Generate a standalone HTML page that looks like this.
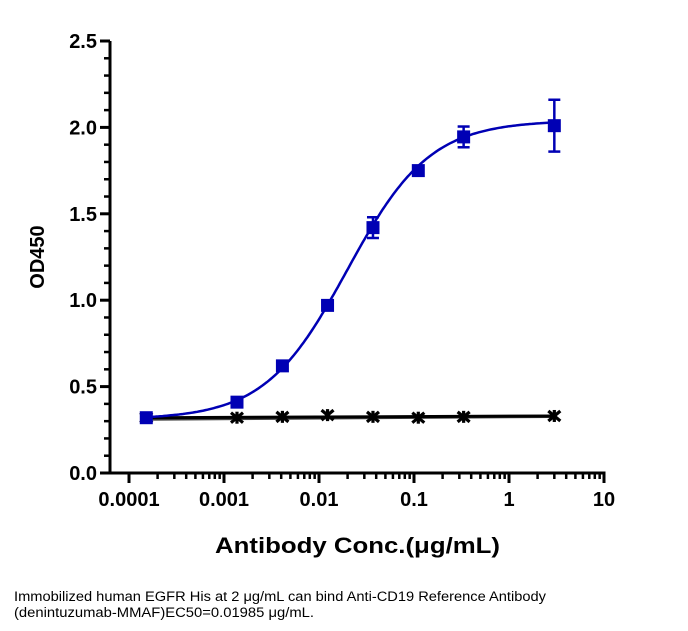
<!DOCTYPE html>
<html><head><meta charset="utf-8"><style>
html,body{margin:0;padding:0;background:#fff;width:688px;height:631px;overflow:hidden}
svg text{font-family:"Liberation Sans",Arial,sans-serif}
</style></head><body>
<svg id="chart" width="688" height="631" xmlns="http://www.w3.org/2000/svg">
<g id="axes"></g><g id="plot"></g>
<text x="215" y="553" font-size="22" font-weight="bold" textLength="285" lengthAdjust="spacingAndGlyphs">Antibody Conc.(μg/mL)</text>
<text transform="translate(44,257) rotate(-90)" font-size="20" font-weight="bold" text-anchor="middle">OD450</text>
<text x="14" y="601" font-size="13.5" textLength="532" lengthAdjust="spacingAndGlyphs">Immobilized human EGFR His at 2  μg/mL can bind  Anti-CD19 Reference Antibody</text>
<text x="14" y="617" font-size="13.5" textLength="300" lengthAdjust="spacingAndGlyphs">(denintuzumab-MMAF)EC50=0.01985 μg/mL.</text>
</svg>
<script>
const conc = [0.000152, 0.00137, 0.00412, 0.0123, 0.037, 0.111, 0.333, 3];
const sampleOD = [0.32, 0.41, 0.62, 0.97, 1.42, 1.75, 1.945, 2.01];
const sampleErr = [0.02, 0.01, 0.01, 0.025, 0.06, 0.015, 0.06, 0.15];
const controlOD = [0.32, 0.32, 0.325, 0.335, 0.325, 0.32, 0.325, 0.33];
const fitParams = {bottom:0.31, top:2.04, ec50:0.01985, hill:1.0};
const yTicks = [0, 0.5, 1.0, 1.5, 2.0, 2.5];
const yTickLabels = ["0.0","0.5","1.0","1.5","2.0","2.5"];
const xTicks = [0.0001, 0.001, 0.01, 0.1, 1, 10];
const xTickLabels = ["0.0001","0.001","0.01","0.1","1","10"];

const NS="http://www.w3.org/2000/svg";
const X0=129, PXD=95, Y0=473, PXU=172.8;
const xs=v=>X0+(Math.log10(v)+4)*PXD;
const ys=v=>Y0-v*PXU;
function mk(tag,attrs,parent){const e=document.createElementNS(NS,tag);for(const k in attrs)e.setAttribute(k,attrs[k]);parent.appendChild(e);return e;}
const ax=document.getElementById('axes'), pl=document.getElementById('plot');
let yl=mk('line',{x1:110,y1:ys(2.5),x2:110,y2:Y0+1.5,stroke:'#000','stroke-width':3},ax);


let xl=mk('line',{x1:108.5,y1:Y0,x2:xs(10)+1.5,y2:Y0,stroke:'#000','stroke-width':3},ax);


for(let i=1;i<25;i++){if(i%5==0)continue;mk('line',{x1:104,y1:ys(i/10),x2:110,y2:ys(i/10),stroke:'#000','stroke-width':2.5},ax);}
yTicks.forEach((v,i)=>{
 mk('line',{x1:100,y1:ys(v),x2:110,y2:ys(v),stroke:'#000','stroke-width':3},ax);
 const t=mk('text',{x:97,y:ys(v)+7,'font-size':20,'font-weight':'bold','text-anchor':'end'},ax);
 t.textContent=yTickLabels[i];
 
 
});
xTicks.forEach((v,i)=>{
 mk('line',{x1:xs(v),y1:Y0,x2:xs(v),y2:Y0+10,stroke:'#000','stroke-width':3},ax);
 if(i<xTicks.length-1)for(let m=2;m<10;m++){const xm=xs(v*m);mk('line',{x1:xm,y1:Y0,x2:xm,y2:Y0+6,stroke:'#000','stroke-width':2.5},ax);}
 const t=mk('text',{x:xs(v),y:Y0+33,'font-size':20,'font-weight':'bold','text-anchor':'middle'},ax);
 t.textContent=xTickLabels[i];
 
 
});
let cl2=mk('line',{x1:xs(conc[0]),y1:ys(controlOD[0])+2,x2:xs(conc[conc.length-1]),y2:ys(controlOD[conc.length-1])+1,stroke:'#444','stroke-width':2},pl);


let cl3=mk('line',{x1:xs(conc[0]),y1:ys(controlOD[0]),x2:xs(conc[conc.length-1]),y2:ys(controlOD[conc.length-1]),stroke:'#000','stroke-width':3},pl);


conc.forEach((c,i)=>{
 const x=xs(c),y=ys(controlOD[i]);
 const g=mk('g',{stroke:'#000','stroke-width':3.2},pl);
 
 
 mk('line',{x1:x-6,y1:y-5,x2:x+6,y2:y+5},g);mk('line',{x1:x-6,y1:y+5,x2:x+6,y2:y-5},g);mk('line',{x1:x,y1:y-6,x2:x,y2:y+6},g);
});
let d='';
for(let k=0;k<=200;k++){const lx=Math.log10(conc[0])+k/200*(Math.log10(conc[conc.length-1])-Math.log10(conc[0]));const c=Math.pow(10,lx);
 const v=fitParams.bottom+(fitParams.top-fitParams.bottom)/(1+Math.pow(fitParams.ec50/c,fitParams.hill));
 d+=(k?'L':'M')+xs(c).toFixed(1)+','+ys(v).toFixed(1);}
let fc=mk('path',{d:d,fill:'none',stroke:'#0000b4','stroke-width':2.5},pl);


conc.forEach((c,i)=>{
 const x=xs(c),y=ys(sampleOD[i]),e=sampleErr[i];
 const g=mk('g',{stroke:'#0000b4','stroke-width':2.5,fill:'#0000b4'},pl);
 
 
 mk('line',{x1:x,y1:ys(sampleOD[i]+e),x2:x,y2:ys(sampleOD[i]-e)},g);
 mk('line',{x1:x-6,y1:ys(sampleOD[i]+e),x2:x+6,y2:ys(sampleOD[i]+e)},g);
 mk('line',{x1:x-6,y1:ys(sampleOD[i]-e),x2:x+6,y2:ys(sampleOD[i]-e)},g);
 mk('rect',{x:x-6.5,y:y-6.5,width:13,height:13,stroke:'none'},g);
});
</script>
</body></html>
